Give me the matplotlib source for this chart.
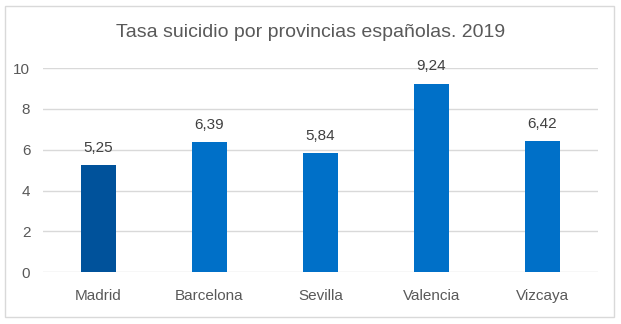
import matplotlib.pyplot as plt
from matplotlib.patches import Rectangle

provincias = ['Madrid', 'Barcelona', 'Sevilla', 'Valencia', 'Vizcaya']
tasas = [5.25, 6.39, 5.84, 9.24, 6.42]
etiquetas = ['5,25', '6,39', '5,84', '9,24', '6,42']
colores = ['#00529B', '#0070C8', '#0070C8', '#0070C8', '#0070C8']

plt.rcParams['font.family'] = ['Liberation Sans', 'DejaVu Sans']

fig = plt.figure(figsize=(6.21, 3.24), dpi=100)
ax = fig.add_axes([0.069, 0.160, 0.894, 0.630])

x = range(len(provincias))
ax.bar(x, tasas, width=0.32, color=colores, zorder=3)
for i, (v, t) in enumerate(zip(tasas, etiquetas)):
    ax.text(i, v + 0.5, t, ha='center', va='bottom', fontsize=11, color='#404040')

ax.set_xlim(-0.5, len(provincias) - 0.5)
ax.set_ylim(0, 10)
ax.set_yticks(range(0, 11, 2))
ax.set_xticks(list(x))
ax.set_xticklabels(provincias)
ax.tick_params(length=0, labelsize=11, labelcolor='#595959')
ax.tick_params(axis='x', pad=12)
ax.tick_params(axis='y', pad=9)
ax.grid(axis='y', color='#D9D9D9', linewidth=1, zorder=0)
for s in ax.spines.values():
    s.set_visible(False)

fig.text(0.5, 0.90, 'Tasa suicidio por provincias españolas. 2019', ha='center', va='center',
         fontsize=14, color='#595959')

fig.patches.append(Rectangle((0.008, 0.022), 0.981, 0.958, transform=fig.transFigure,
                             fill=False, edgecolor='#D9D9D9', linewidth=1))

fig.savefig('out.png', dpi=100)
